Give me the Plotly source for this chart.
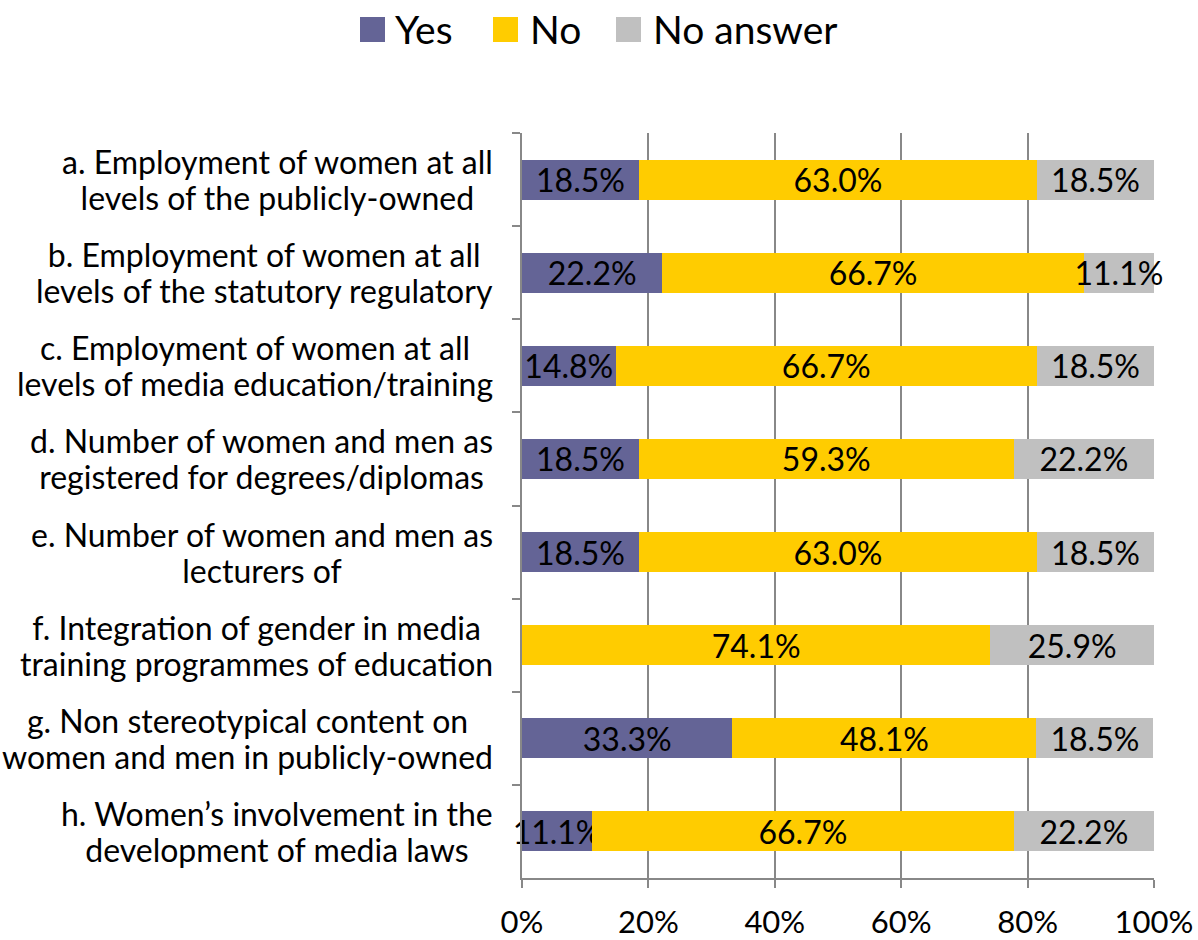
import plotly.graph_objects as go

categories = [
    ["a. Employment of women at all", "levels of the publicly-owned"],
    ["b. Employment of women at all", "levels of the statutory regulatory"],
    ["c. Employment of women at all", "levels of media education/training"],
    ["d. Number of women and men as", "registered for degrees/diplomas"],
    ["e. Number of women and men as", "lecturers of"],
    ["f. Integration of gender in media", "training programmes of education"],
    ["g. Non stereotypical content on", "women and men in publicly-owned"],
    ["h. Women’s involvement in the", "development of media laws"],
]
cat_ids = ["a", "b", "c", "d", "e", "f", "g", "h"]
yes = [18.5, 22.2, 14.8, 18.5, 18.5, 0.0, 33.3, 11.1]
no = [63.0, 66.7, 66.7, 59.3, 63.0, 74.1, 48.1, 66.7]
no_answer = [18.5, 11.1, 18.5, 22.2, 18.5, 25.9, 18.5, 22.2]
series_names = ["Yes", "No", "No answer"]
colors = ["#646496", "#FFCC00", "#C0C0C0"]
x_ticks = [0, 20, 40, 60, 80, 100]

FONT = "Lato"
fig = go.Figure()
for name, vals, col in zip(series_names, [yes, no, no_answer], colors):
    fig.add_trace(go.Bar(
        y=cat_ids, x=vals, orientation="h", name=name,
        marker=dict(color=col, line=dict(width=0)),
        text=[f"{v:.1f}%" if v > 0 else "" for v in vals],
        textposition="inside", insidetextanchor="middle",
        textfont=dict(family=FONT, size=32, color="black"),
        cliponaxis=False,
        showlegend=False, hoverinfo="skip",
    ))

# category labels (centered multi-line, tighter line spacing)
for cid, lines in zip(cat_ids, categories):
    txt = "<br>".join(f"<span style='font-size:32px'>{ln}</span>" for ln in lines)
    fig.add_annotation(
        x=0, xref="paper", y=cid, yref="y", text=txt, showarrow=False,
        xanchor="right", yanchor="middle", align="center", xshift=-27,
        font=dict(family=FONT, size=28, color="black"),
    )

# manual legend
W, H, L, T = 632.0, 745.0, 522.0, 133.0
def px(x):
    return (x - L) / W
def py(y):
    return (T + H - y) / H
leg = [(360, 393), (493, 528), (616, 651)]
for (sx, tx), name, col in zip(leg, series_names, colors):
    fig.add_shape(type="rect", xref="paper", yref="paper",
                  x0=px(sx), x1=px(sx + 25), y0=py(42), y1=py(17),
                  fillcolor=col, line=dict(width=0))
    fig.add_annotation(x=px(tx), y=py(29), xref="paper", yref="paper",
                       text=name, showarrow=False, xanchor="left", yanchor="middle",
                       font=dict(family=FONT, size=39, color="black"))

fig.update_layout(
    width=1198, height=940,
    margin=dict(l=522, r=44, t=133, b=62),
    plot_bgcolor="white", paper_bgcolor="white",
    barmode="stack", bargap=0.57,
    uniformtext=dict(minsize=32, mode="show"),
    font=dict(family=FONT, color="black"),
    xaxis=dict(
        range=[0, 100], tickvals=x_ticks, ticktext=[f"{v}%" for v in x_ticks],
        showgrid=True, gridcolor="#888888", gridwidth=2,
        showline=True, linecolor="#888888", linewidth=2,
        ticks="outside", ticklen=8, tickcolor="#888888", tickwidth=2,
        tickfont=dict(family=FONT, size=31, color="black"), zeroline=False,
        automargin=False, ticklabelstandoff=8,
    ),
    yaxis=dict(
        categoryorder="array", categoryarray=cat_ids, autorange="reversed",
        showticklabels=False, tickson="boundaries",
        ticks="outside", ticklen=8, tickcolor="#888888", tickwidth=2,
        showline=True, linecolor="#888888", linewidth=2, showgrid=False,
        automargin=False,
    ),
)
fig.write_html("out.html")
